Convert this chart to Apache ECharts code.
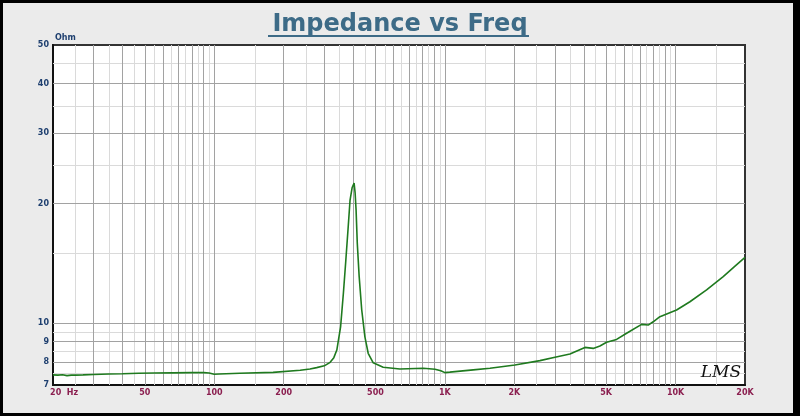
<!DOCTYPE html>
<html>
<head>
<meta charset="utf-8">
<script src="https://cdn.jsdelivr.net/npm/echarts@6/dist/echarts.min.js"></script>
<style>
  html, body { margin: 0; padding: 0; background: #000; }
  #wrap { position: relative; width: 800px; height: 416px; }
  #chart { position: absolute; left: 0; top: 0; width: 800px; height: 416px; }
  #frame { position: absolute; left: 0; top: 0; width: 800px; height: 416px; box-sizing: border-box;
           border-style: solid; border-color: #000; border-width: 3px 7px 3px 3px; pointer-events: none; }
</style>
</head>
<body>
<div id="wrap"><div id="chart"></div><div id="frame"></div></div>
<script>
// ---- data ----
const freqHz = [20,21,22,23,24,25,27,30,35,40,47,55,66,80,90,95,100,105,129,180,
  236,260,278,300,318,330,340,353,363,372,381,388,396,404,408,412,417,425,436,450,
  465,489,540,638,806,906,960,1000,1050,1327,1568,2012,2582,3000,3484,4046,4396,4700,5024,5550,
  6134,7124,7610,8000,8552,10100,11540,13630,16090,18000,20000];
const impedanceOhm = [7.42,7.41,7.43,7.39,7.41,7.41,7.42,7.44,7.46,7.47,7.49,7.50,7.51,7.52,7.52,7.50,7.45,7.46,7.49,7.53,
  7.62,7.68,7.74,7.82,7.98,8.2,8.57,9.8,11.9,14.4,17.5,20.4,21.9,22.5,21.3,19.3,15.9,13.1,10.8,9.25,
  8.41,7.96,7.76,7.68,7.71,7.67,7.6,7.52,7.54,7.64,7.71,7.86,8.06,8.22,8.37,8.70,8.65,8.77,8.96,9.11,
  9.44,9.94,9.90,10.09,10.39,10.80,11.33,12.13,13.10,13.88,14.65];

const xTickValues = [20,50,100,200,500,1000,2000,5000,10000,20000];
const xTickLabels = ['        20  Hz','50','100','200','500','1K','2K','5K','10K','20K'];
const yTickValues = [7,8,9,10,20,30,40,50];
const yTickLabels = ['7','8','9','10','20','30','40','50'];
const yMajorGrid = [8,9,10,20,30,40];
const yMinorGrid = [7.5,8.5,9.5,15,25,35,45];

// log-grid positions per decade
const xMajorGrid = [], xMinorGrid = [];
[10,100,1000,10000].forEach(function (d) {
  for (let m = 1; m <= 9; m++) {
    const v = m * d; if (v > 20 && v < 20000) xMajorGrid.push(v);
    const h = (m + 0.5) * d; if (h > 20 && h < 20000) xMinorGrid.push(h);
  }
});

const chart = echarts.init(document.getElementById('chart'), null, { renderer: 'canvas' });

const gridLines = [];
xMinorGrid.forEach(v => gridLines.push({ xAxis: v, lineStyle: { color: '#dadada', width: 1, type: 'solid' } }));
yMinorGrid.forEach(v => gridLines.push({ yAxis: v, lineStyle: { color: '#dadada', width: 1, type: 'solid' } }));
xMajorGrid.forEach(v => gridLines.push({ xAxis: v, lineStyle: { color: '#a2a2a2', width: 1, type: 'solid' } }));
yMajorGrid.forEach(v => gridLines.push({ yAxis: v, lineStyle: { color: '#a2a2a2', width: 1, type: 'solid' } }));

const labelLines = [];
xTickValues.forEach((v, i) => labelLines.push({
  xAxis: v,
  label: { show: true, position: 'start', distance: 4, formatter: xTickLabels[i],
           color: '#8b1f50', fontSize: 8, fontWeight: 'bold', fontFamily: 'DejaVu Sans' }
}));
yTickValues.forEach((v, i) => labelLines.push({
  yAxis: v,
  label: { show: true, position: 'start', distance: 4, formatter: yTickLabels[i],
           color: '#1e3f6f', fontSize: 8, fontWeight: 'bold', fontFamily: 'DejaVu Sans' }
}));

const option = {
  animation: false,
  backgroundColor: '#ebebeb',
  grid: { left: 53, right: 55, top: 45, bottom: 31, show: true,
          backgroundColor: '#ffffff', borderColor: '#333333', borderWidth: 2 },
  xAxis: { type: 'log', logBase: 10, min: 20, max: 20000,
           axisLine: { show: true, onZero: false, lineStyle: { color: '#111', width: 2 } },
           axisTick: { show: false }, axisLabel: { show: false }, splitLine: { show: false } },
  yAxis: { type: 'log', logBase: 10, min: 7, max: 50,
           axisLine: { show: true, onZero: false, lineStyle: { color: '#111', width: 2 } },
           axisTick: { show: false }, axisLabel: { show: false }, splitLine: { show: false } },
  series: [
    { type: 'line', z: 1, data: [[20, 7]], showSymbol: false, symbol: 'none',
      lineStyle: { opacity: 0 }, silent: true,
      markLine: { silent: true, symbol: ['none', 'none'], animation: false,
                  label: { show: false }, emphasis: { disabled: true }, data: gridLines } },
    { type: 'line', z: 2, data: [[20, 7]], showSymbol: false, symbol: 'none',
      lineStyle: { opacity: 0 }, silent: true,
      markLine: { silent: true, symbol: ['none', 'none'], animation: false,
                  lineStyle: { color: 'rgba(0,0,0,0)', width: 1 }, emphasis: { disabled: true }, data: labelLines } },
    { type: 'line', z: 5, name: 'Impedance', showSymbol: false, symbol: 'none', smooth: false,
      lineStyle: { color: '#1f7a1f', width: 1.6 },
      data: freqHz.map((f, i) => [f, impedanceOhm[i]]) }
  ],
  graphic: [
    { type: 'text', x: 400, y: 25, z: 10,
      style: { text: 'Impedance vs Freq', font: 'bold 24px "DejaVu Sans"', fill: '#3d6b87',
               align: 'center', verticalAlign: 'middle' } },
    { type: 'rect', z: 10, shape: { x: 268, y: 35, width: 261, height: 2 }, style: { fill: '#3d6b87' } },
    { type: 'text', x: 55, y: 38, z: 10,
      style: { text: 'Ohm', font: 'bold 8px "DejaVu Sans"', fill: '#1e3f6f',
               align: 'left', verticalAlign: 'middle' } },
    { type: 'text', x: 721, y: 373, z: 10,
      style: { text: 'LMS', font: 'italic 17px "DejaVu Serif"', fill: '#111',
               align: 'center', verticalAlign: 'middle' } }
  ]
};
chart.setOption(option);
</script>
</body>
</html>
